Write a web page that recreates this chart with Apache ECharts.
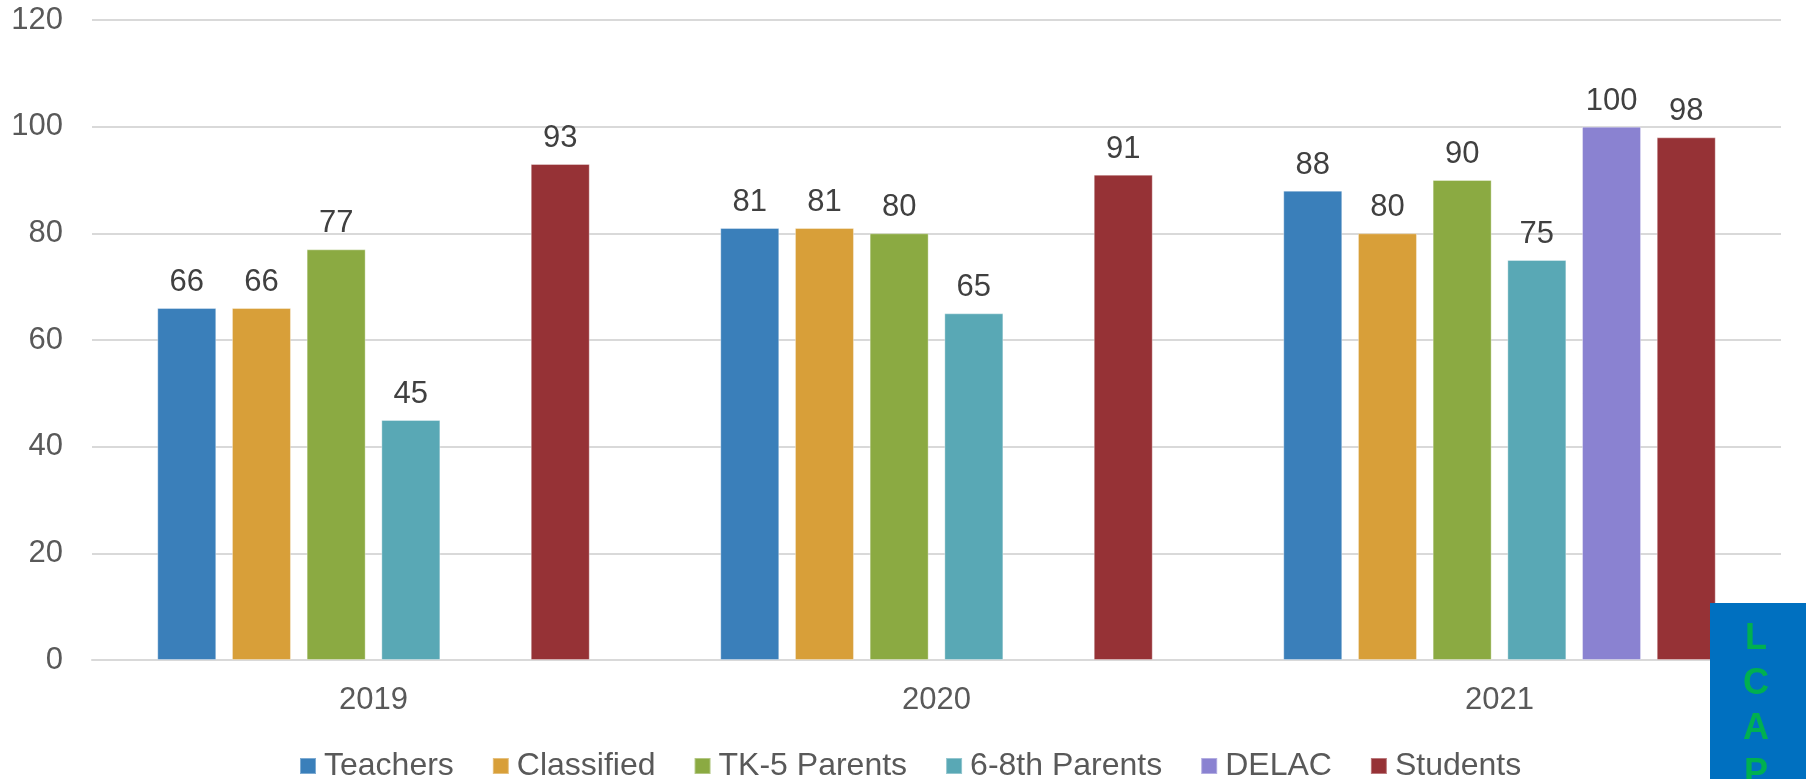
<!DOCTYPE html>
<html>
<head>
<meta charset="utf-8">
<script src="https://cdn.jsdelivr.net/npm/echarts@6/dist/echarts.min.js"></script>
<style>
html,body{margin:0;padding:0;background:#fff;}
#chart{width:1806px;height:779px;}
</style>
</head>
<body>
<div id="chart"></div>
<script>
const categories = ['2019', '2020', '2021'];
const seriesNames = ['Teachers', 'Classified', 'TK-5 Parents', '6-8th Parents', 'DELAC', 'Students'];
const teachers = [66, 81, 88];
const classified = [66, 81, 80];
const tk5Parents = [77, 80, 90];
const parents68 = [45, 65, 75];
const delac = [null, null, 100];
const students = [93, 91, 98];
const colors = ['#3A7FBA', '#D89F39', '#8BAA42', '#59A8B5', '#8A82D1', '#963236'];
const yTicks = { min: 0, max: 120, interval: 20 };

const seriesData = [teachers, classified, tk5Parents, parents68, delac, students];
const FONT = '"Liberation Sans", Arial, sans-serif';

const chart = echarts.init(document.getElementById('chart'), null, { renderer: 'canvas' });
chart.setOption({
  animation: false,
  backgroundColor: '#ffffff',
  color: colors,
  textStyle: { fontFamily: FONT },
  grid: { left: 92, right: 25, top: 20, bottom: 119, containLabel: false },
  legend: {
    left: 299,
    top: 750,
    padding: 0,
    itemWidth: 16,
    itemHeight: 16,
    itemGap: 38,
    icon: 'rect',
    data: seriesNames,
    textStyle: { fontFamily: FONT, fontSize: 32, color: '#595959', padding: [0, 0, 0, 3] }
  },
  xAxis: {
    type: 'category',
    data: categories,
    axisLine: { show: true, lineStyle: { color: '#D9D9D9', width: 2 } },
    axisTick: { show: false },
    axisLabel: { fontFamily: FONT, fontSize: 31, color: '#595959', margin: 25 }
  },
  yAxis: {
    type: 'value',
    min: yTicks.min,
    max: yTicks.max,
    interval: yTicks.interval,
    axisLine: { show: false },
    axisTick: { show: false },
    axisLabel: { fontFamily: FONT, fontSize: 31, color: '#595959', margin: 29 },
    splitLine: { lineStyle: { color: '#D9D9D9', width: 2 } }
  },
  series: seriesNames.map((name, i) => ({
    name: name,
    type: 'bar',
    data: seriesData[i],
    barWidth: 59,
    barGap: '26.6%',
    itemStyle: { color: colors[i], borderColor: 'rgba(255,255,255,0.35)', borderWidth: 1 },
    label: {
      show: true,
      position: 'top',
      distance: 10,
      fontFamily: FONT,
      fontSize: 31,
      color: '#404040'
    }
  })),
  graphic: [
    {
      type: 'rect',
      shape: { x: 1710, y: 603, width: 96, height: 176 },
      style: { fill: '#0070C0' },
      z: 100
    },
    {
      type: 'text',
      x: 1756,
      y: 617,
      style: {
        text: 'L\nC\nA\nP',
        fill: '#00B050',
        font: 'bold 36px "Liberation Sans", Arial, sans-serif',
        lineHeight: 45,
        align: 'center',
        verticalAlign: 'top'
      },
      z: 101
    }
  ]
});
</script>
</body>
</html>
